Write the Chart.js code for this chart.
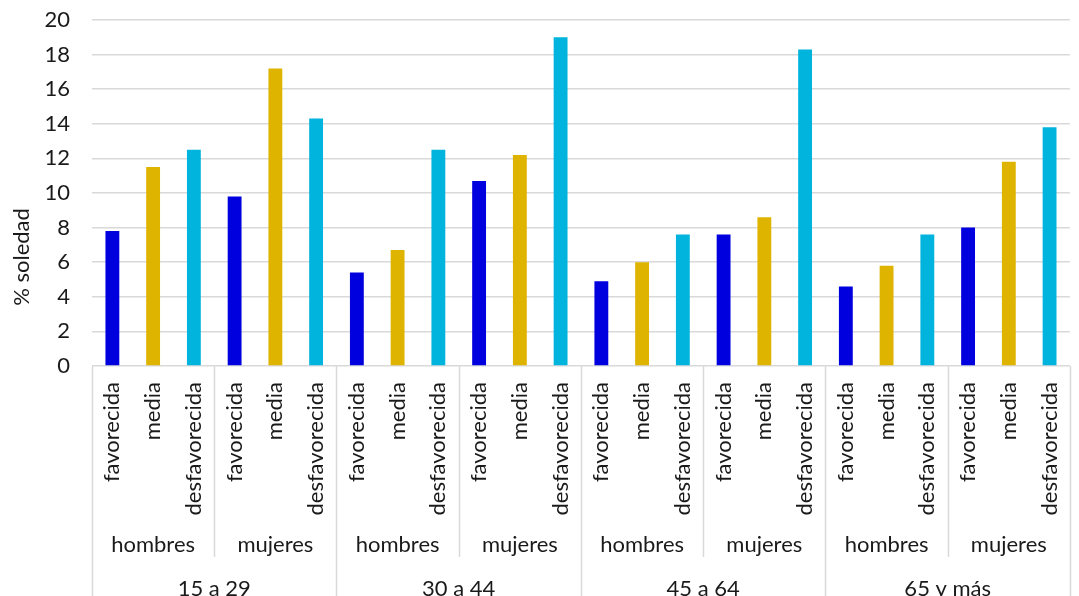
<!DOCTYPE html>
<html>
<head>
<meta charset="utf-8">
<script src="https://cdn.jsdelivr.net/npm/chart.js@4.4.1/dist/chart.umd.min.js"></script>
<style>
  html, body { margin: 0; padding: 0; background: #ffffff; overflow: hidden; }
  #wrap { width: 1079px; height: 596px; overflow: hidden; }
  canvas { display: block; }
</style>
</head>
<body>
<div id="wrap"><canvas id="c" width="1092" height="596"></canvas></div>
<script>
const ageGroups = ['15 a 29', '30 a 44', '45 a 64', '65 y más'];
const sexes = ['hombres', 'mujeres'];
const levels = ['favorecida', 'media', 'desfavorecida'];
// order: 15-29 H, 15-29 M, 30-44 H, 30-44 M, 45-64 H, 45-64 M, 65+ H, 65+ M
const favorecida    = [7.8, 9.8, 5.4, 10.7, 4.9, 7.6, 4.6, 8.0];
const media         = [11.5, 17.2, 6.7, 12.2, 6.0, 8.6, 5.8, 11.8];
const desfavorecida = [12.5, 14.3, 12.5, 19.0, 7.6, 18.3, 7.6, 13.8];
const yTitle = '% soledad';
const levelColors = ['#0000df', '#deb400', '#00b4de'];

const series = [favorecida, media, desfavorecida];
const labels = [], values = [], colors = [];
const sexLabels = [];
ageGroups.forEach((a, ai) => {
  sexes.forEach((s, si) => {
    const g = ai * sexes.length + si;
    sexLabels.push(s);
    levels.forEach((l, li) => {
      labels.push(l);
      values.push(series[li][g]);
      colors.push(levelColors[li]);
    });
  });
});

const FONT = 'Lato';
const FS = 22;
const TXT = '#1a1a1a';
const GRID = '#d9d9d9';

const decorations = {
  id: 'decorations',
  afterDraw(chart) {
    const x = chart.scales.x, x2 = chart.scales.x2;
    const ctx = chart.ctx;
    const bottom = chart.chartArea.bottom;
    ctx.save();
    ctx.strokeStyle = GRID;
    ctx.lineWidth = 1.5;
    const per = levels.length;
    for (let k = 0; k <= labels.length; k += per) {
      const px = Math.round(x.getPixelForValue(k - 0.5)) + 0.5;
      const end = (k % (per * sexes.length) === 0) ? chart.height : x2.bottom;
      ctx.beginPath();
      ctx.moveTo(px, bottom);
      ctx.lineTo(px, end);
      ctx.stroke();
    }
    // y-axis title (placed as in the reference, below the axis centre)
    ctx.translate(22, 257);
    ctx.rotate(-Math.PI / 2);
    ctx.fillStyle = TXT;
    ctx.font = FS + 'px ' + FONT;
    ctx.textAlign = 'center';
    ctx.textBaseline = 'middle';
    ctx.fillText(yTitle, 0, 0);
    ctx.restore();
  }
};

new Chart(document.getElementById('c'), {
  type: 'bar',
  data: {
    labels: labels,
    datasets: [{
      data: values,
      backgroundColor: colors,
      borderWidth: 0,
      categoryPercentage: 1,
      barPercentage: 0.34
    }]
  },
  options: {
    responsive: false,
    animation: false,
    devicePixelRatio: 1,
    layout: { padding: { top: 20, right: 1, left: 0, bottom: 0 } },
    plugins: { legend: { display: false }, tooltip: { enabled: false } },
    scales: {
      y: {
        min: 0, max: 20,
        ticks: { stepSize: 2, padding: 0, color: TXT, font: { family: FONT, size: FS } },
        grid: { color: GRID, lineWidth: 1.5, drawTicks: true, tickLength: 22, tickColor: 'rgba(0,0,0,0)' },
        border: { display: false },
        title: { display: false },
        afterFit(s) { s.width = 92; }
      },
      x: {
        position: 'bottom',
        ticks: { autoSkip: false, minRotation: 90, maxRotation: 90, padding: 16, color: TXT, font: { family: FONT, size: FS } },
        grid: { display: false, drawTicks: false },
        border: { display: false },
        afterFit(s) { s.height = 150; }
      },
      x2: {
        type: 'category',
        position: 'bottom',
        labels: sexLabels,
        offset: true,
        ticks: { autoSkip: false, maxRotation: 0, minRotation: 0, padding: 16, color: TXT, font: { family: FONT, size: FS } },
        grid: { display: false, drawTicks: false },
        border: { display: false },
        afterFit(s) { s.height = 41; }
      },
      x3: {
        type: 'category',
        position: 'bottom',
        labels: ageGroups,
        offset: true,
        ticks: { autoSkip: false, maxRotation: 0, minRotation: 0, padding: 19, color: TXT, font: { family: FONT, size: FS } },
        grid: { display: false, drawTicks: false },
        border: { display: false },
        afterFit(s) { s.height = 39; }
      }
    }
  },
  plugins: [decorations]
});
</script>
</body>
</html>
